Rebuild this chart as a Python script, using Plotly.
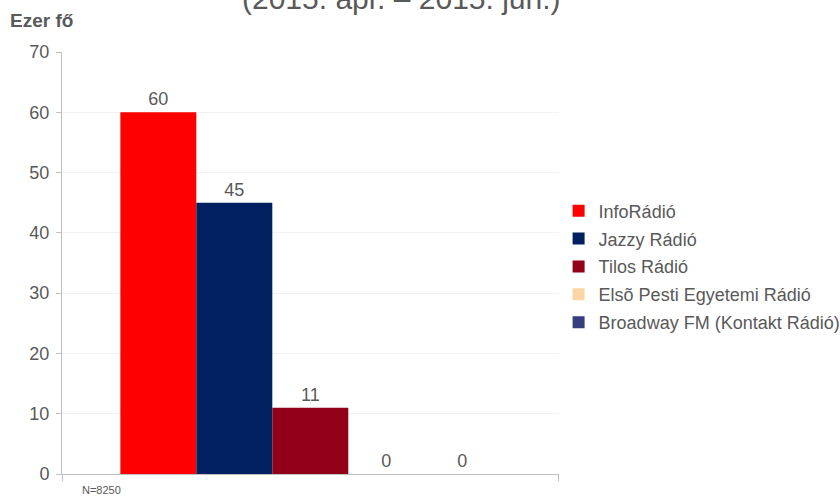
import plotly.graph_objects as go

series = ["InfoRádió", "Jazzy Rádió", "Tilos Rádió", "Elsõ Pesti Egyetemi Rádió", "Broadway FM (Kontakt Rádió)"]
values = [60, 45, 11, 0, 0]
colors = ["#FF0000", "#002060", "#910018", "#FBD5A5", "#353F7E"]
category = ["N=8250"]
title_text = "(2015. ápr. – 2015. jún.)"
y_label = "Ezer fő"
note = "N=8250"

FONT = "Liberation Sans, Arial, sans-serif"
GRAY = "#595959"

fig = go.Figure()
for name, v, c in zip(series, values, colors):
    fig.add_trace(go.Bar(
        x=category, y=[v], name=name, marker=dict(color=c, line=dict(width=0)),
        text=[str(v)], textposition="outside", cliponaxis=False,
        textfont=dict(family=FONT, size=18, color=GRAY), legendgroup=name,
    ))

fig.update_layout(
    width=840, height=498,
    margin=dict(l=62, r=280, t=52, b=24),
    paper_bgcolor="white", plot_bgcolor="white",
    barmode="group", bargap=0.235, bargroupgap=0,
    font=dict(family=FONT, color=GRAY),
    showlegend=True,
    legend=dict(xref="container", yref="container", x=0.665, xanchor="left",
                y=0.465, yanchor="middle",
                font=dict(family=FONT, size=18, color=GRAY),
                itemwidth=30, tracegroupgap=1.5, traceorder="grouped"),
    xaxis=dict(showticklabels=False, showline=True, linecolor="#BFBFBF", linewidth=1,
               ticks="outside", tickson="boundaries", ticklen=6, tickcolor="#BFBFBF",
               showgrid=False, zeroline=False, automargin=False),
    yaxis=dict(range=[0, 70], dtick=10, showline=True, linecolor="#BFBFBF", linewidth=1,
               ticks="outside", ticklen=5, tickcolor="#BFBFBF", ticklabelstandoff=3,
               gridcolor="#F2F2F2", gridwidth=1, zeroline=False, automargin=False,
               tickfont=dict(family=FONT, size=18, color=GRAY)),
    annotations=[
        dict(text=title_text, xref="paper", yref="paper", x=0.683, y=1, xanchor="center",
             yanchor="middle", yshift=54, showarrow=False,
             font=dict(family=FONT, size=30, color=GRAY)),
        dict(text="<b>" + y_label + "</b>", xref="paper", yref="paper", x=0, y=1,
             xanchor="left", yanchor="middle", xshift=-54, yshift=32, showarrow=False,
             font=dict(family=FONT, size=19, color=GRAY)),
        dict(text=note, xref="paper", yref="paper", x=0, y=0, xanchor="left",
             yanchor="middle", xshift=18, yshift=-16, showarrow=False,
             font=dict(family=FONT, size=11, color=GRAY)),
    ],
)

fig.write_html("out.html", config={"displayModeBar": False},
               post_script="document.body.style.margin='0';")
